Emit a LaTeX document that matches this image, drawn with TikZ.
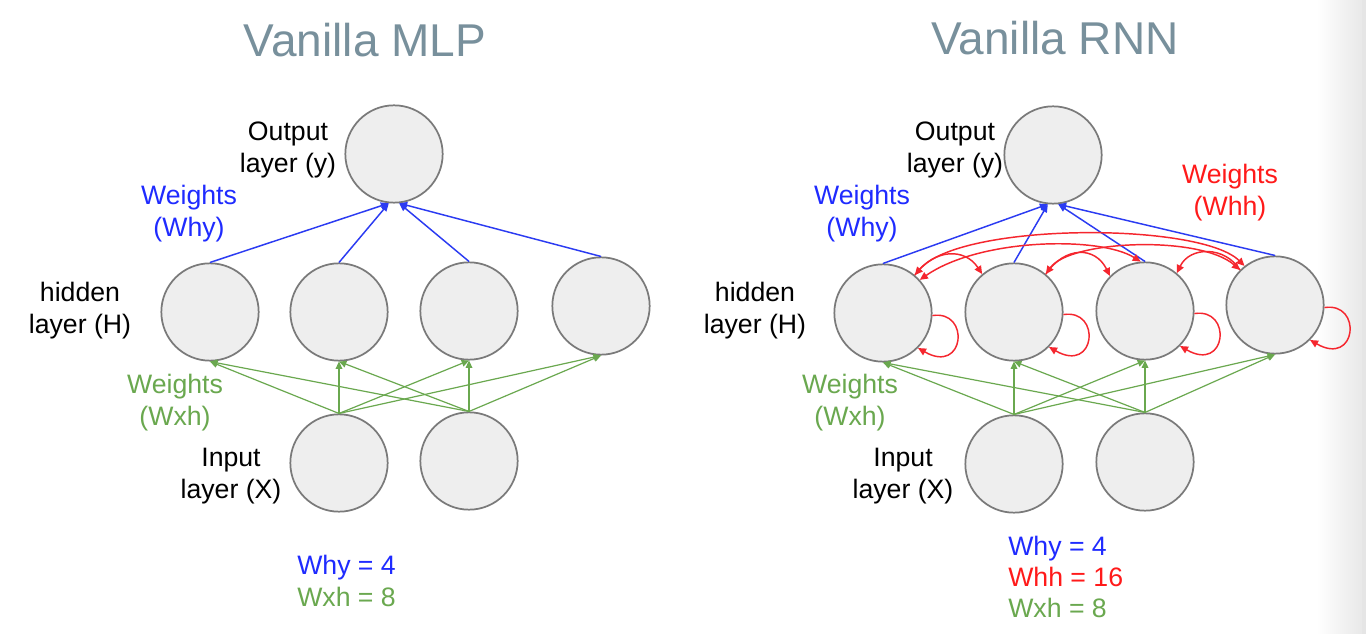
\documentclass[tikz,border=0pt]{standalone}
\usepackage{fontspec}
\setmainfont{Liberation Sans}
\usetikzlibrary{arrows.meta}
\definecolor{titlec}{HTML}{78909C}
\definecolor{nfill}{HTML}{EEEEEE}
\definecolor{nedge}{HTML}{7A7A7A}
\definecolor{wblue}{HTML}{2B3BF2}
\definecolor{wgreen}{HTML}{6AA84F}
\definecolor{wred}{HTML}{F5262E}
\definecolor{tblue}{HTML}{1F2BFF}
\definecolor{tred}{HTML}{FF1A1A}
\begin{document}
\begin{tikzpicture}[x=0.75pt,y=-0.75pt,
  neuron/.style={circle, draw=nedge, fill=nfill, line width=1.3pt, minimum size=73pt, inner sep=0pt},
  lbl/.style={align=center, font=\fontsize{20}{24}\selectfont, inner sep=0pt},
  ttl/.style={font=\fontsize{34.5}{40}\selectfont, text=titlec, inner sep=0pt},
  why/.style={draw=wblue, line width=1.1pt, -{Triangle[length=6pt,width=5pt]}},
  wxh/.style={draw=wgreen, line width=0.9pt, -{Triangle[length=5.5pt,width=5pt]}},
  whh/.style={draw=wred, line width=1.1pt, -{Triangle[length=6pt,width=5.5pt]}},
  whhb/.style={draw=wred, line width=1.1pt, {Triangle[length=6pt,width=5.5pt]}-{Triangle[length=6pt,width=5.5pt]}},
]
\useasboundingbox (0,0) rectangle (1366,634);
\fill[white] (0,0) rectangle (1366,634);
\shade[left color=white, right color=black!9] (1316,0) rectangle (1362,634);
\fill[black!10] (1362,0) rectangle (1366,634);

% ---------------- Vanilla MLP ----------------
\node[ttl] (tmlp) at (365,40) {Vanilla MLP};
\node[neuron] (mo) at (394,154) {};
\node[neuron] (mh1) at (210,312) {};
\node[neuron] (mh2) at (339,312) {};
\node[neuron] (mh3) at (469,311) {};
\node[neuron] (mh4) at (601,306) {};
\node[neuron] (mx1) at (339,463) {};
\node[neuron] (mx2) at (469,461) {};

\node[lbl] (lmo) at (288,150) {Output\\layer (y)};
\node[lbl, text=tblue] (lmwhy) at (189,214) {Weights\\(Why)};
\node[lbl] (lmh) at (80,311) {hidden\\layer (H)};
\node[lbl, text=wgreen] (lmwxh) at (175,403) {Weights\\(Wxh)};
\node[lbl] (lmx) at (231,476) {Input\\layer (X)};
\node[lbl, align=left, anchor=west] (lmcnt) at (297,581) {\textcolor{tblue}{Why = 4}\\\textcolor{wgreen}{Wxh = 8}};

\draw[why] (mh1.north) -- (mo.-96);
\draw[why] (mh2.north) -- (mo.-96);
\draw[why] (mh3.north) -- (mo.-84);
\draw[why] (mh4.north) -- (mo.-84);
\foreach \i in {1,2}{
  \foreach \j in {1,2,3,4}{
    \draw[wxh] (mx\i.north) -- (mh\j.south);
  }
}

% ---------------- Vanilla RNN ----------------
\node[ttl] (trnn) at (1055,38) {Vanilla RNN};
\node[neuron] (ro) at (1053,155) {};
\node[neuron] (rh1) at (883,313) {};
\node[neuron] (rh2) at (1014,312) {};
\node[neuron] (rh3) at (1145,311) {};
\node[neuron] (rh4) at (1275,305) {};
\node[neuron] (rx1) at (1014,464) {};
\node[neuron] (rx2) at (1145,462) {};

\node[lbl] (lro) at (955,150) {Output\\layer (y)};
\node[lbl, text=tblue] (lrwhy) at (862,214) {Weights\\(Why)};
\node[lbl, text=tred] (lrwhh) at (1230,193) {Weights\\(Whh)};
\node[lbl] (lrh) at (755,311) {hidden\\layer (H)};
\node[lbl, text=wgreen] (lrwxh) at (850,403) {Weights\\(Wxh)};
\node[lbl] (lrx) at (903,476) {Input\\layer (X)};
\node[lbl, align=left, anchor=west, font=\fontsize{20}{23}\selectfont] (lrcnt) at (1008,577)
  {\textcolor{tblue}{Why = 4}\\\textcolor{tred}{Whh = 16}\\\textcolor{wgreen}{Wxh = 8}};

\draw[why] (rh1.north) -- (ro.-96);
\draw[why] (rh2.north) -- (ro.-96);
\draw[why] (rh3.north) -- (ro.-84);
\draw[why] (rh4.north) -- (ro.-84);
\foreach \i in {1,2}{
  \foreach \j in {1,2,3,4}{
    \draw[wxh] (rx\i.north) -- (rh\j.south);
  }
}

% recurrent connections
\draw[whhb] (rh1.50) .. controls (960,222) and (1200,222) .. (rh4.128);
\draw[whhb] (rh1.42) .. controls (980,238) and (1100,236) .. (rh3.95);
\draw[whhb] (rh2.50) .. controls (1070,240) and (1200,235) .. (rh4.135);
\draw[whh] (rh1.50) .. controls (935,248) and (965,248) .. (rh2.130);
\draw[whh] (rh2.50) .. controls (1065,246) and (1095,246) .. (rh3.135);
\draw[whh] (rh4.135) .. controls (1225,246) and (1190,246) .. (rh3.50);
\foreach \k in {1,2,3,4}{
  \draw[whh] (rh\k.-3) .. controls +(38,-6) and +(47,27) .. (rh\k.-45);
}
\end{tikzpicture}
\end{document}
